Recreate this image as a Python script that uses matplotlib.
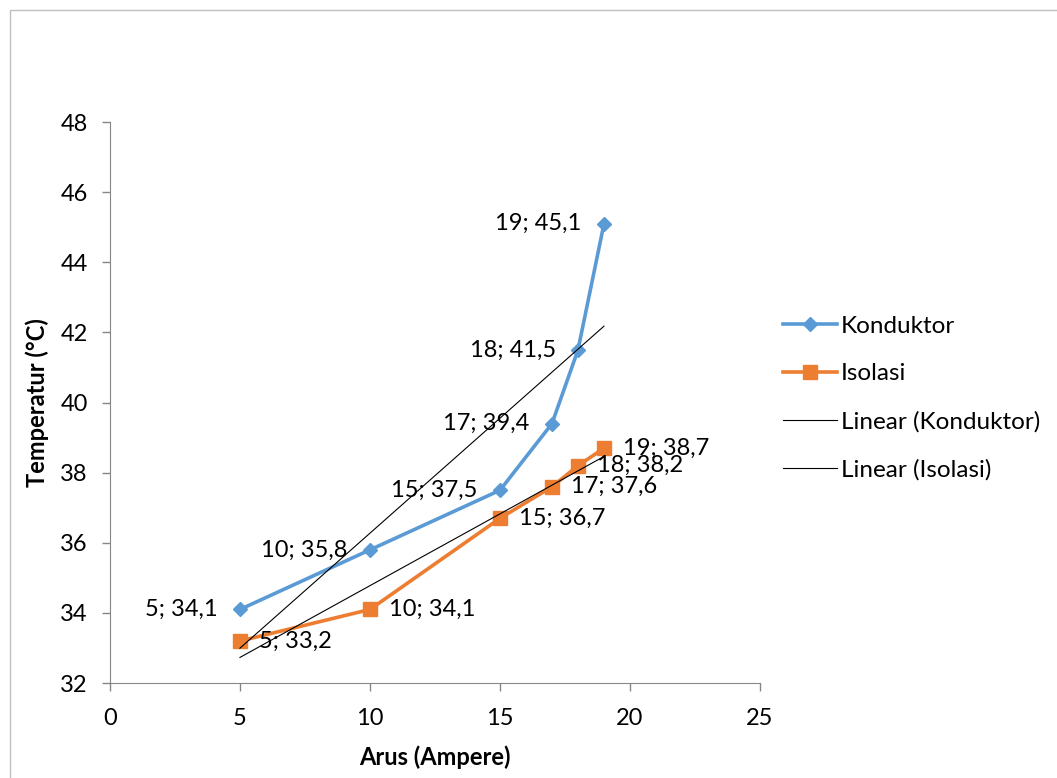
import matplotlib.pyplot as plt
import numpy as np
from matplotlib.patches import Rectangle

plt.rcParams['font.family'] = ['Lato', 'DejaVu Sans']

# data
arus = [5, 10, 15, 17, 18, 19]
konduktor = [34.1, 35.8, 37.5, 39.4, 41.5, 45.1]
isolasi = [33.2, 34.1, 36.7, 37.6, 38.2, 38.7]

blue = '#5B9BD5'
orange = '#ED7D31'
grey = '#868686'

fig = plt.figure(figsize=(10.57, 7.78), dpi=100)
ax = fig.add_axes([0.104, 0.122, 0.615, 0.721])

# chart frame
fig.patches.append(Rectangle((10 / 1057, -0.1), 1.2, (768 / 778) + 0.1,
                             transform=fig.transFigure, fill=False,
                             edgecolor='#BFBFBF', lw=1))

ax.plot(arus, konduktor, color=blue, lw=2.6, marker='D', ms=7.5,
        label='Konduktor')
ax.plot(arus, isolasi, color=orange, lw=2.6, marker='s', ms=10,
        label='Isolasi')

# linear trend lines (least squares)
xs = np.array([arus[0], arus[-1]])
k = np.polyfit(arus, konduktor, 1)
i = np.polyfit(arus, isolasi, 1)
ax.plot(xs, np.polyval(k, xs), color='black', lw=0.8, label='Linear (Konduktor)')
ax.plot(xs, np.polyval(i, xs), color='black', lw=0.8, label='Linear (Isolasi)')

def fmt(x, y):
    return f"{x}; {y:.1f}".replace('.', ',')

for x, y in zip(arus, konduktor):
    ax.annotate(fmt(x, y), (x, y), xytext=(-16, 0), textcoords='offset points',
                ha='right', va='center', fontsize=17)
for x, y in zip(arus, isolasi):
    ax.annotate(fmt(x, y), (x, y), xytext=(14, 0), textcoords='offset points',
                ha='left', va='center', fontsize=17)

ax.set_xlim(0, 25)
ax.set_ylim(32, 48)
ax.set_xticks(range(0, 26, 5))
ax.set_yticks(range(32, 49, 2))
ax.tick_params(labelsize=17, color=grey, length=6, width=1)
ax.tick_params(axis='x', pad=12)
ax.tick_params(axis='y', pad=10)
for s in ['top', 'right']:
    ax.spines[s].set_visible(False)
for s in ['left', 'bottom']:
    ax.spines[s].set_color(grey)

ax.set_xlabel('Arus (Ampere)', fontsize=17, fontweight='bold', labelpad=12)
ax.set_ylabel('Temperatur (°C)', fontsize=17, fontweight='bold', labelpad=8)

ax.legend(loc='center left', bbox_to_anchor=(1.02, 0.508), frameon=False,
          fontsize=17.5, handlelength=2.25, handletextpad=0.15, labelspacing=1.1,
          borderaxespad=0)

fig.savefig('out.png', dpi=100)
